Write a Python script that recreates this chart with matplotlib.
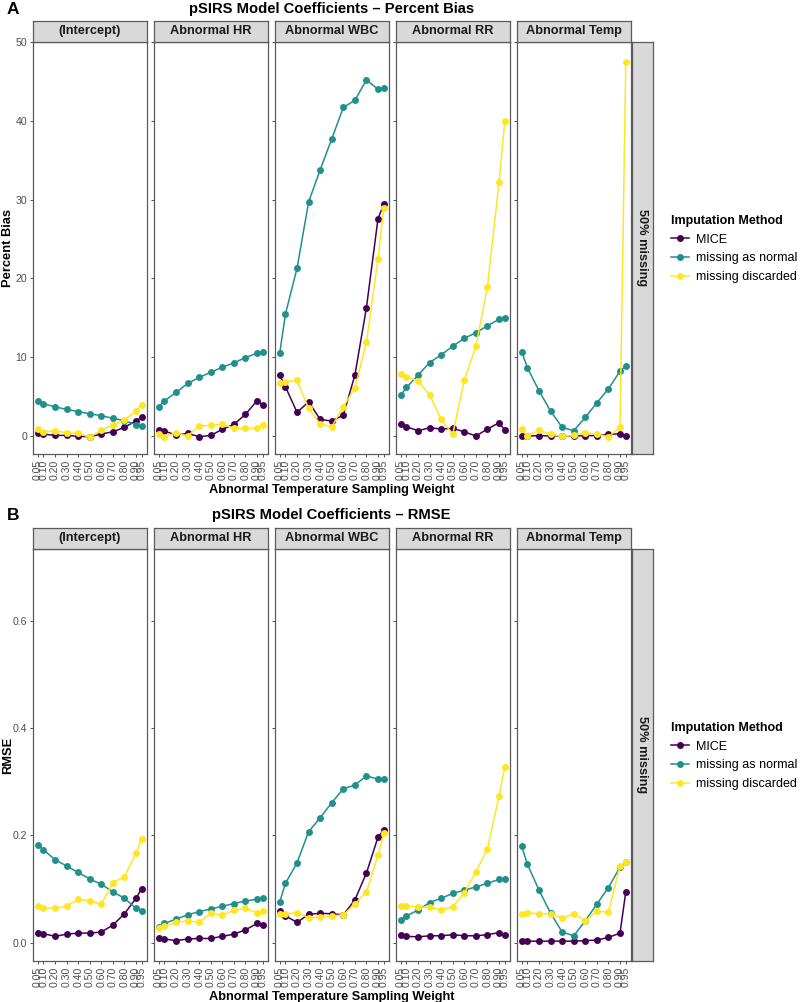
import matplotlib
matplotlib.use("Agg")
from matplotlib import pyplot as plt
from matplotlib.lines import Line2D

plt.rcParams["font.family"] = ["Liberation Sans", "DejaVu Sans"]

# -- data -- #
weights = [0.05, 0.10, 0.20, 0.30, 0.40, 0.50, 0.60, 0.70, 0.80, 0.90, 0.95]
weight_labels = ["0.05", "0.10", "0.20", "0.30", "0.40", "0.50", "0.60", "0.70", "0.80", "0.90", "0.95"]
facets = ["(Intercept)", "Abnormal HR", "Abnormal WBC", "Abnormal RR", "Abnormal Temp"]
methods = ["MICE", "missing as normal", "missing discarded"]
colors = ["#440154", "#21908C", "#FDE725"]

# percent bias, one row per facet
bias_mice = [
    [0.34, 0.25, 0.08, 0.08, -0.04, -0.09, 0.25, 0.54, 1.10, 1.94, 2.37],
    [0.76, 0.63, 0.13, 0.34, -0.09, 0.08, 0.85, 1.48, 2.75, 4.47, 3.92],
    [7.72, 6.24, 3.00, 4.34, 2.11, 1.90, 2.66, 7.72, 16.3, 27.6, 29.4],
    [1.48, 1.18, 0.67, 1.05, 0.89, 0.97, 0.54, 0.00, 0.89, 1.68, 0.76],
    [0.00, 0.00, 0.05, 0.00, 0.05, 0.00, 0.05, 0.05, 0.20, 0.30, 0.00],
]
bias_normal = [
    [4.40, 4.10, 3.70, 3.38, 3.10, 2.82, 2.58, 2.25, 1.95, 1.45, 1.30],
    [3.71, 4.47, 5.53, 6.67, 7.43, 8.10, 8.73, 9.28, 9.96, 10.5, 10.7],
    [10.5, 15.5, 21.3, 29.7, 33.8, 37.7, 41.7, 42.6, 45.2, 44.0, 44.1],
    [5.19, 6.16, 7.72, 9.33, 10.3, 11.4, 12.4, 13.1, 14.0, 14.8, 15.0],
    [10.7, 8.65, 5.73, 3.16, 1.10, 0.67, 2.37, 4.22, 5.99, 8.23, 8.86],
]
bias_discarded = [
    [0.95, 0.54, 0.67, 0.42, 0.34, -0.16, 0.76, 1.39, 2.03, 3.20, 3.90],
    [0.25, -0.09, 0.42, 0.00, 1.27, 1.35, 1.52, 0.97, 0.97, 0.97, 1.39],
    [6.67, 6.87, 7.09, 3.50, 1.52, 1.18, 3.71, 6.08, 11.9, 22.5, 28.9],
    [7.93, 7.51, 7.00, 5.19, 2.11, 0.21, 7.09, 11.4, 18.9, 32.2, 40.0],
    [0.85, 0.00, 0.76, 0.21, 0.00, 0.08, 0.42, 0.21, -0.09, 1.10, 47.5],
]

# RMSE, one row per facet
rmse_mice = [
    [0.018, 0.017, 0.012, 0.016, 0.018, 0.018, 0.020, 0.033, 0.054, 0.083, 0.101],
    [0.008, 0.007, 0.004, 0.007, 0.008, 0.008, 0.012, 0.016, 0.024, 0.036, 0.033],
    [0.059, 0.050, 0.038, 0.053, 0.055, 0.054, 0.052, 0.080, 0.130, 0.197, 0.210],
    [0.015, 0.012, 0.011, 0.013, 0.013, 0.015, 0.013, 0.013, 0.015, 0.019, 0.014],
    [0.003, 0.003, 0.003, 0.003, 0.003, 0.003, 0.004, 0.005, 0.010, 0.018, 0.095],
]
rmse_normal = [
    [0.183, 0.173, 0.155, 0.143, 0.131, 0.119, 0.109, 0.095, 0.083, 0.064, 0.059],
    [0.029, 0.036, 0.044, 0.052, 0.058, 0.063, 0.068, 0.073, 0.078, 0.081, 0.083],
    [0.076, 0.111, 0.149, 0.207, 0.233, 0.261, 0.287, 0.294, 0.311, 0.305, 0.305],
    [0.042, 0.050, 0.061, 0.075, 0.083, 0.092, 0.098, 0.104, 0.111, 0.118, 0.119],
    [0.180, 0.146, 0.098, 0.055, 0.020, 0.013, 0.041, 0.072, 0.103, 0.141, 0.151],
]
rmse_discarded = [
    [0.068, 0.065, 0.064, 0.068, 0.081, 0.078, 0.072, 0.112, 0.123, 0.167, 0.194],
    [0.028, 0.031, 0.038, 0.041, 0.038, 0.055, 0.051, 0.061, 0.064, 0.056, 0.059],
    [0.053, 0.054, 0.056, 0.047, 0.048, 0.050, 0.052, 0.072, 0.095, 0.163, 0.204],
    [0.068, 0.068, 0.067, 0.066, 0.062, 0.067, 0.093, 0.132, 0.175, 0.273, 0.327],
    [0.053, 0.056, 0.054, 0.054, 0.046, 0.054, 0.041, 0.059, 0.057, 0.144, 0.150],
]

bias_ticks = [0, 10, 20, 30, 40, 50]
rmse_ticks = [0.0, 0.2, 0.4, 0.6]
rmse_tick_labels = ["0.0", "0.2", "0.4", "0.6"]

# -- layout (pixels) -- #
W, H = 800, 1002
BORDER = "#5a5a5a"
TEXT = "#4D4D4D"
STRIP = "#D9D9D9"
panel_left = [32.5, 153.5, 274.5, 395.5, 516.5]
panel_w = 114.5


def box(l, t, r, b):
    return [l / W, 1 - b / H, (r - l) / W, (b - t) / H]


def strip_axes(fig, rect, text, rotation=0):
    ax = fig.add_axes(rect)
    ax.set_facecolor(STRIP)
    ax.set_xticks([])
    ax.set_yticks([])
    for s in ax.spines.values():
        s.set_color(BORDER)
        s.set_linewidth(0.9)
    ax.text(0.5, 0.5, text, transform=ax.transAxes, ha="center", va="center",
            fontsize=9.2, fontweight="bold", color="#1A1A1A", rotation=rotation)
    return ax


def draw_block(fig, top, series, ylim, yticks, yticklabels, title, letter, ylabel):
    strip_top, panel_top, panel_bot = top, top + 21.5, top + 433.5
    for i, name in enumerate(facets):
        l = panel_left[i]
        ax = fig.add_axes(box(l, panel_top, l + panel_w, panel_bot))
        for vals, c in zip(series, colors):
            ax.plot(weights, vals[i], color=c, lw=1.1, marker="o", ms=5,
                    markeredgewidth=0, solid_capstyle="round")
        ax.set_xlim(0.005, 0.995)
        ax.set_ylim(*ylim)
        ax.set_xticks(weights)
        ax.set_xticklabels(weight_labels, rotation=90, fontsize=7.6, color=TEXT)
        ax.set_yticks(yticks)
        if i == 0:
            ax.set_yticklabels(yticklabels, fontsize=7.6, color=TEXT)
        else:
            ax.tick_params(axis="y", length=0, labelleft=False)
        ax.tick_params(length=2.5, width=0.6, color="#333333", pad=1.5)
        for s in ax.spines.values():
            s.set_color(BORDER)
            s.set_linewidth(0.9)
        strip_axes(fig, box(l, strip_top, l + panel_w, panel_top), name)

    strip_axes(fig, box(631.5, panel_top, 652.5, panel_bot), "50% missing", rotation=-90)

    cx = (panel_left[0] + panel_left[-1] + panel_w) / 2 / W
    fig.text(cx, 1 - (top - 12) / H, title, ha="center", va="center",
             fontsize=10.6, fontweight="bold")
    fig.text(7 / W, 1 - (top - 11.5) / H, letter, ha="left", va="center",
             fontsize=12.5, fontweight="bold")
    fig.text(cx, 1 - (panel_bot + 36) / H, "Abnormal Temperature Sampling Weight",
             ha="center", va="center", fontsize=9.2, fontweight="bold")
    fig.text(8 / W, 1 - (panel_top + panel_bot) / 2 / H, ylabel, ha="center",
             va="center", rotation=90, fontsize=9.3, fontweight="bold")

    handles = [Line2D([], [], color=c, lw=1.1, marker="o", ms=5, markeredgewidth=0)
               for c in colors]
    leg = fig.legend(handles, methods, loc="center left",
                     bbox_to_anchor=(660 / W, 1 - (panel_top + panel_bot + 2) / 2 / H),
                     frameon=False, fontsize=9.0, title="Imputation Method",
                     title_fontproperties={"weight": "bold", "size": 9.0},
                     handlelength=1.4, handletextpad=0.6, labelspacing=0.55)
    leg._legend_box.align = "left"


fig = plt.figure(figsize=(W / 100, H / 100), dpi=100)
draw_block(fig, 20.5, [bias_mice, bias_normal, bias_discarded], (-2.28, 49.87),
           bias_ticks, [str(t) for t in bias_ticks],
           "pSIRS Model Coefficients \u2013 Percent Bias", "A", "Percent Bias")
draw_block(fig, 527.5, [rmse_mice, rmse_normal, rmse_discarded], (-0.034, 0.734),
           rmse_ticks, rmse_tick_labels,
           "pSIRS Model Coefficients \u2013 RMSE", "B", "RMSE")

fig.savefig("out.png", dpi=100)
